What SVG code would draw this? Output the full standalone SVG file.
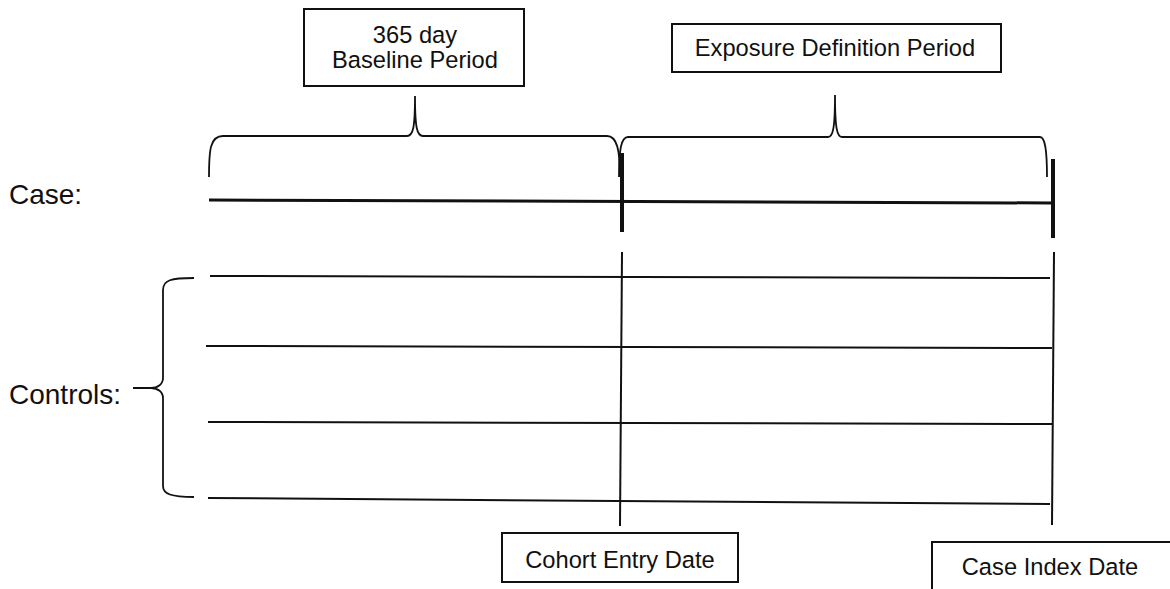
<svg xmlns="http://www.w3.org/2000/svg" width="1170" height="589" viewBox="0 0 1170 589">
<style>
text{font-family:"Liberation Sans",Arial,sans-serif;fill:#111;}
.lbl{font-size:28px;}
.box{font-size:23.7px;text-anchor:middle;}
rect{fill:#fff;stroke:#111;stroke-width:2;}
.thin{stroke:#111;stroke-width:2;fill:none;}
.brace{stroke:#111;stroke-width:1.8;fill:none;}
</style>
<rect x="0" y="0" width="1170" height="589" style="stroke:none"/>
<g id="labels">
<text class="lbl" x="9" y="204">Case:</text>
<text class="lbl" x="9" y="404">Controls:</text>
</g>
<g id="baseline-box">
<rect x="304" y="9" width="220" height="77"/>
<text class="box" x="415" y="43">365 day</text>
<text class="box" x="415" y="68">Baseline Period</text>
</g>
<g id="exposure-box">
<rect x="672" y="24" width="329" height="48"/>
<text class="box" x="835" y="56">Exposure Definition Period</text>
</g>
<g id="cohort-box">
<rect x="502" y="533" width="236" height="49"/>
<text class="box" x="620" y="568">Cohort Entry Date</text>
</g>
<g id="case-index-box">
<rect x="932" y="542" width="240" height="60"/>
<text class="box" x="1050" y="575">Case Index Date</text>
</g>
<g id="connectors">
<path class="brace" d="M209,177 C209,150 210,136 223,136 L407,136 C413,136 415,128 415,96 C415,128 417,136 423,136 L607,136 C617,136 620,150 620,177"/>
<path class="brace" d="M619,177 C619,150 621,137 628,137 L828,137 C833,137 835,128 835,95 C835,128 837,137 842,137 L1040,137 C1045,137 1047,150 1047,177"/>
<path class="brace" d="M194,278 C171,278 163,280 163,290 L163,378 C163,384 158,388 151,388 L133,388 M151,388 C158,388 163,392 163,398 L163,486 C163,494 171,497 194,497"/>
<line x1="209" y1="200" x2="1052" y2="203" stroke="#111" stroke-width="3"/>
<line x1="622" y1="153" x2="622" y2="232" stroke="#111" stroke-width="4"/>
<line x1="1053" y1="159" x2="1053" y2="238" stroke="#111" stroke-width="4"/>
<line class="thin" x1="622" y1="252" x2="620" y2="526"/>
<line class="thin" x1="1054" y1="252" x2="1052" y2="525"/>
<line class="thin" x1="210" y1="276" x2="1050" y2="278"/>
<line class="thin" x1="206" y1="346" x2="1052" y2="348"/>
<line class="thin" x1="208" y1="422" x2="1052" y2="424"/>
<line class="thin" x1="208" y1="498" x2="1050" y2="504"/>
</g>
</svg>
